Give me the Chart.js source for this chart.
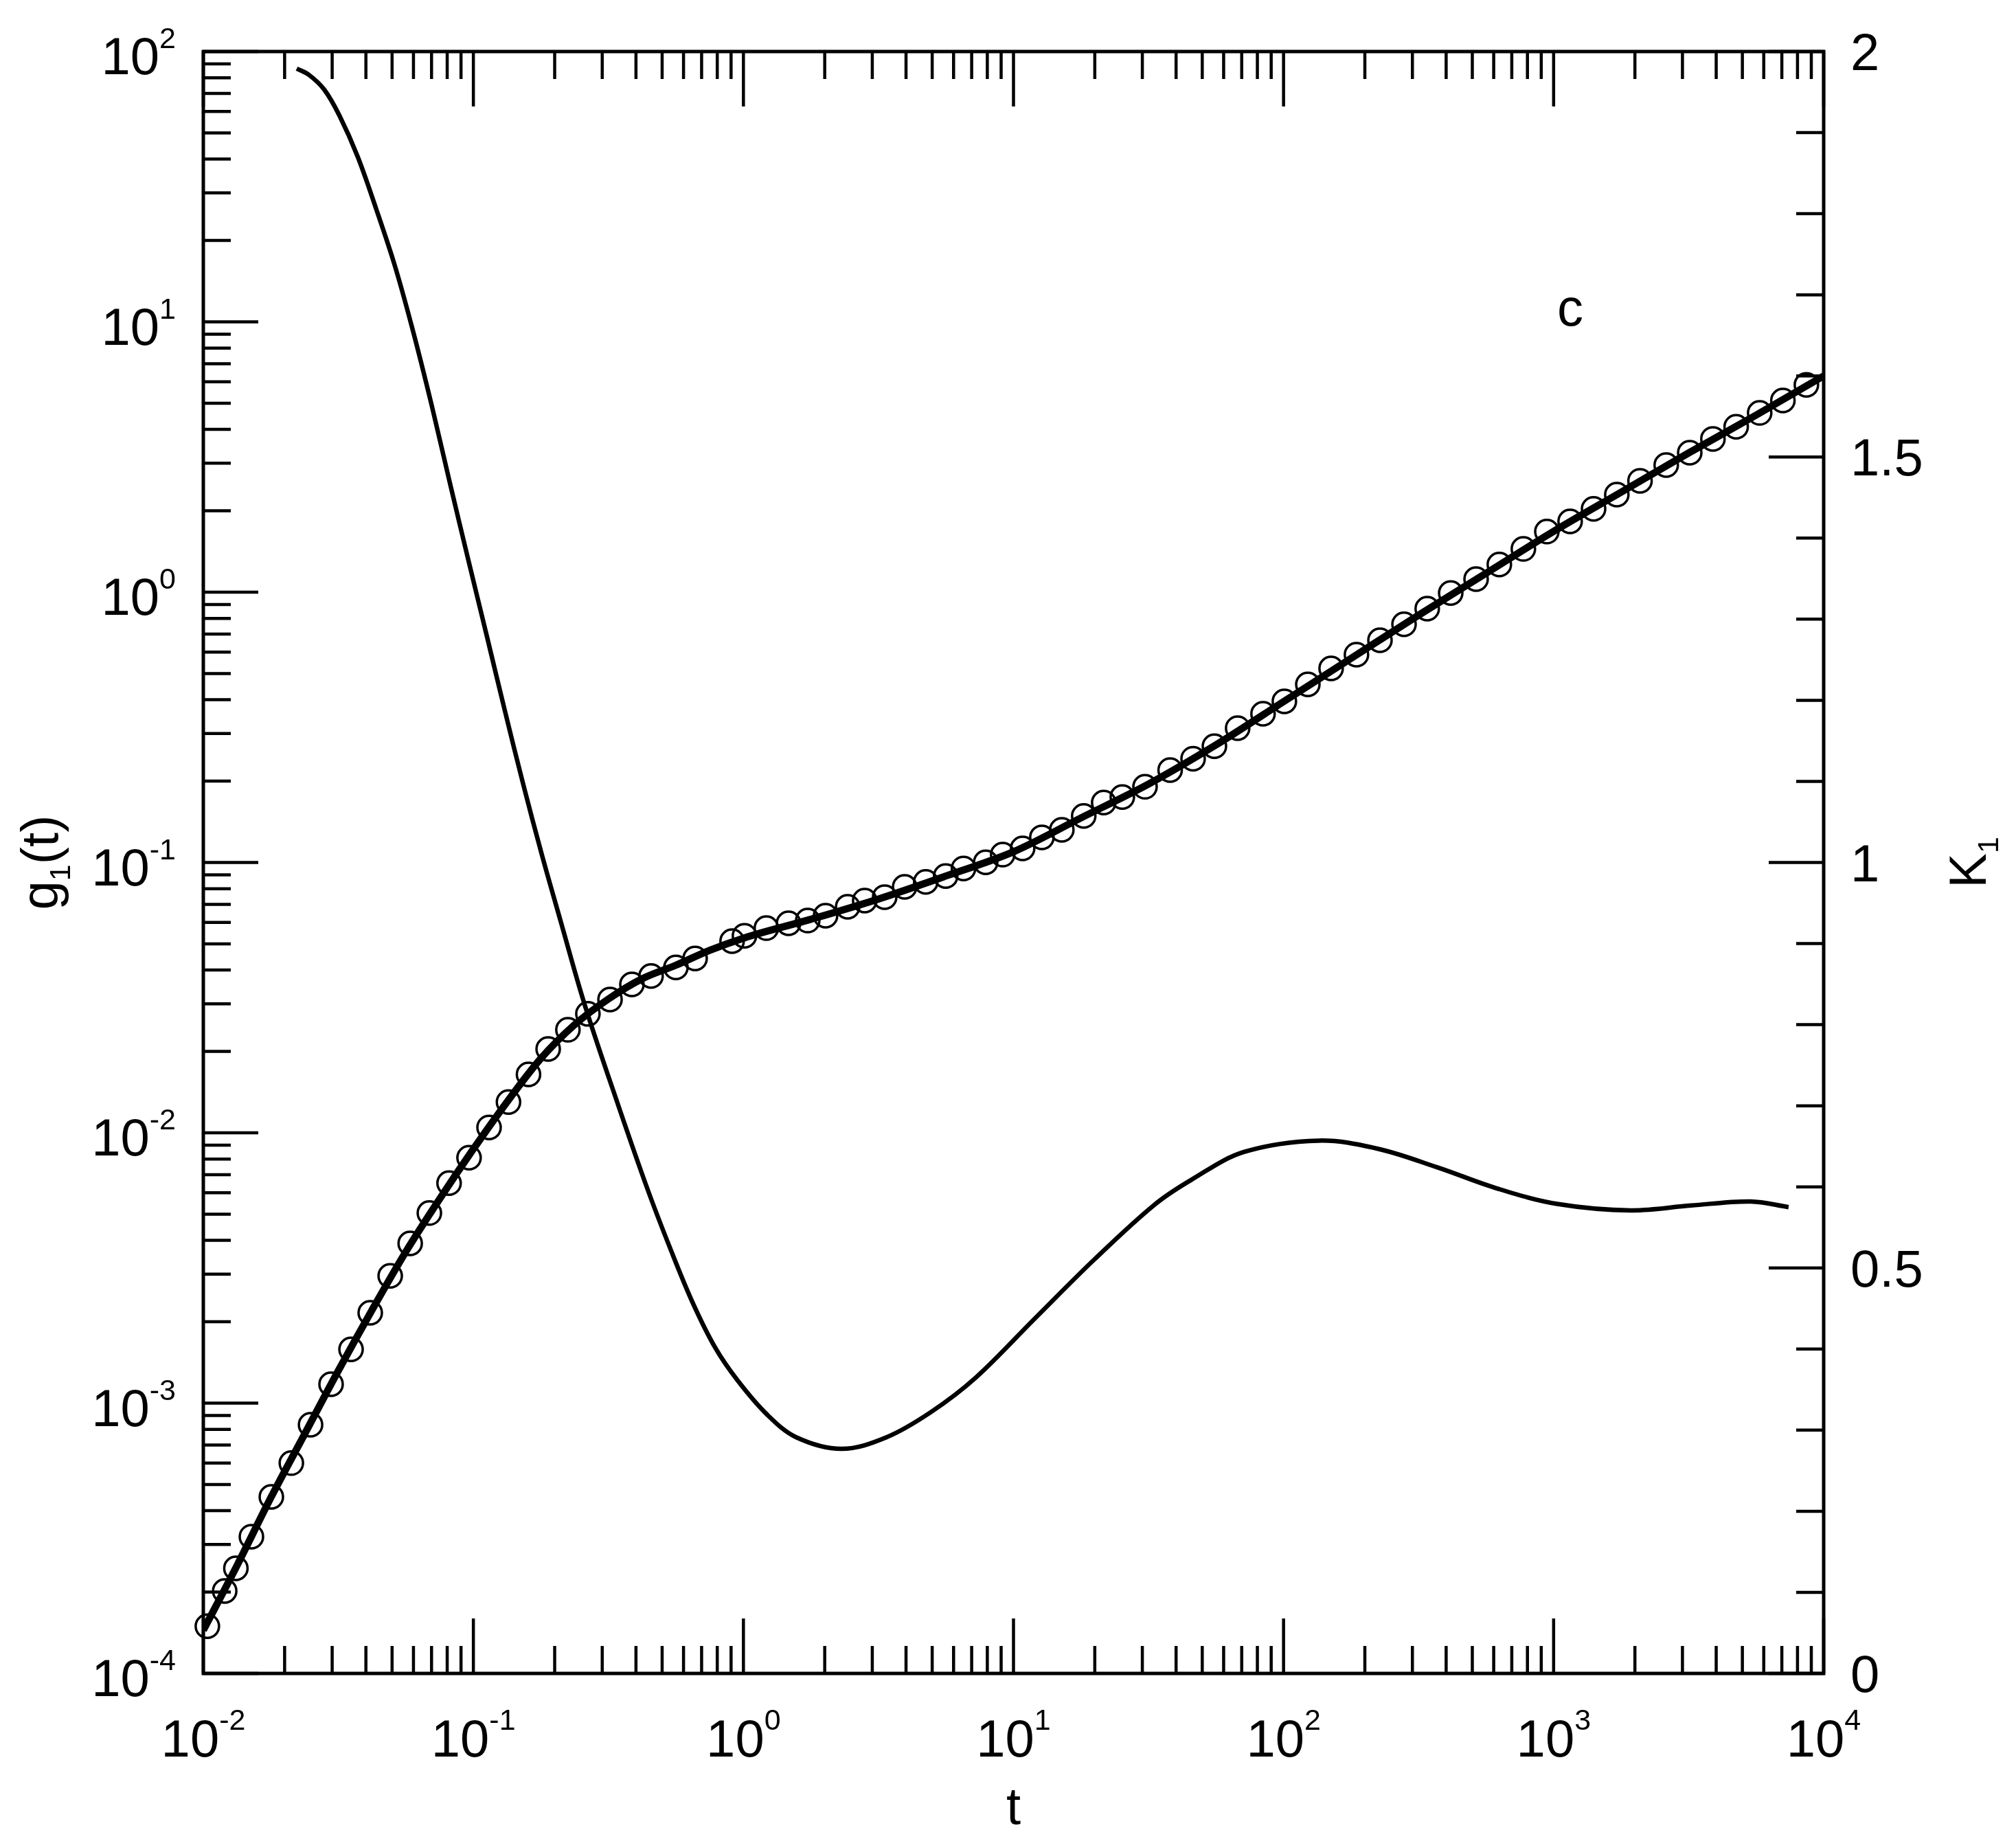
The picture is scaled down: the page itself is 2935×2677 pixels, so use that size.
<!DOCTYPE html>
<html>
<head>
<meta charset="utf-8">
<script src="https://cdn.jsdelivr.net/npm/chart.js@4.4.0/dist/chart.umd.min.js"></script>
<style>
  html, body { margin: 0; padding: 0; background: #fff; }
  canvas { display: block; }
</style>
</head>
<body>
<canvas id="chart" width="2935" height="2677"></canvas>
<script>
// g1(t): simulated points (open circles)
const circleT = [0.01035, 0.0120, 0.0132, 0.01507, 0.01786, 0.02118, 0.02495, 0.02972, 0.03524, 0.0415,
  0.0492, 0.05834, 0.06871, 0.08128, 0.09638, 0.1143, 0.1349, 0.16, 0.1892, 0.2239,
  0.2655, 0.3206, 0.3864, 0.455, 0.5623, 0.6622, 0.9078, 1.009, 1.216, 1.469,
  1.73, 2.014, 2.432, 2.812, 3.334, 3.954, 4.732, 5.61, 6.531, 7.889,
  9.12, 10.81, 12.74, 15.1, 18.2, 21.58, 25.29, 30.69, 38.02, 46.24,
  55.46, 67.61, 83.95, 100.7, 123.0, 150.0, 186.2, 227.5, 279.3, 340.4,
  415.9, 516.4, 629.5, 772.7, 944.1, 1151, 1406, 1714, 2089, 2612,
  3192, 3890, 4742, 5794, 7063, 8630];
const circleG = [1.496e-4, 2.018e-4, 2.449e-4, 3.206e-4, 4.498e-4, 5.998e-4, 8.318e-4, 1.175e-3, 1.581e-3, 2.158e-3,
  2.958e-3, 3.899e-3, 5.047e-3, 6.516e-3, 8.091e-3, 0.01047, 0.0130, 0.01644, 0.02042, 0.02404,
  0.02754, 0.03112, 0.0354, 0.03802, 0.04093, 0.04416, 0.05117, 0.05358, 0.05715, 0.05957,
  0.06095, 0.06353, 0.06855, 0.07228, 0.07447, 0.08128, 0.08472, 0.08913, 0.09506, 0.1002,
  0.1069, 0.1127, 0.1239, 0.1321, 0.1486, 0.1667, 0.1746, 0.1905, 0.2198, 0.2421,
  0.2692, 0.3141, 0.3548, 0.3945, 0.456, 0.5224, 0.5875, 0.6637, 0.7603, 0.869,
  0.9931, 1.117, 1.265, 1.445, 1.675, 1.828, 2.032, 2.296, 2.582, 2.951,
  3.281, 3.69, 4.093, 4.603, 5.117, 5.848];

// g1(t): fitted curve (thick line)
const fitT = [0.01, 0.01334, 0.01778, 0.02371, 0.03162, 0.04217, 0.05623, 0.07499, 0.1, 0.1334,
  0.1778, 0.2371, 0.3162, 0.4217, 0.5623, 0.7499, 1, 1.778, 3.162, 5.623,
  10, 17.78, 31.62, 56.23, 100, 177.8, 316.2, 562.3, 1000, 1778,
  3162, 5623, 10000];
const fitG = [1.445e-4, 2.512e-4, 4.467e-4, 7.674e-4, 1.318e-3, 2.213e-3, 3.631e-3, 5.689e-3, 8.71e-3, 0.01303,
  0.01884, 0.02512, 0.03126, 0.03715, 0.04169, 0.04732, 0.05248, 0.06166, 0.07328, 0.08913,
  0.1096, 0.1462, 0.195, 0.2723, 0.3936, 0.5689, 0.8222, 1.175, 1.679, 2.344,
  3.273, 4.519, 6.31];

// K1(t) on the right axis
const kT = [0.02218, 0.02466, 0.02805, 0.03192, 0.03733, 0.04375, 0.05129, 0.0597, 0.06982, 0.08185,
  0.09594, 0.1122, 0.1306, 0.1531, 0.1795, 0.2099, 0.2576, 0.3436, 0.4416, 0.5358,
  0.6471, 0.7852, 0.9528, 1.225, 1.574, 2.307, 3.373, 4.932, 7.261, 12.02,
  20.0, 33.27, 45.71, 71.29, 134.9, 223.4, 371.5, 618.0, 1030, 1936,
  3228, 5370, 7413];
const kVal = [1.979, 1.971, 1.953, 1.921, 1.870, 1.805, 1.735, 1.656, 1.566, 1.468,
  1.372, 1.279, 1.188, 1.096, 1.009, 0.929, 0.826, 0.701, 0.597, 0.524,
  0.458, 0.402, 0.361, 0.319, 0.291, 0.277, 0.291, 0.322, 0.365, 0.438,
  0.511, 0.578, 0.609, 0.643, 0.657, 0.647, 0.624, 0.598, 0.579, 0.571,
  0.577, 0.582, 0.575];

// tick labels
const xTickValues = [0.01, 0.1, 1, 10, 100, 1000, 10000];
const xTickExp = ['-2', '-1', '0', '1', '2', '3', '4'];
const yTickValues = [1e-4, 1e-3, 1e-2, 1e-1, 1, 10, 100];
const yTickExp = ['-4', '-3', '-2', '-1', '0', '1', '2'];
const kTickValues = [0, 0.5, 1, 1.5, 2];
const kTickLabels = ['0', '0.5', '1', '1.5', '2'];

const FONT = '"Liberation Sans", Arial, sans-serif';

function toPoints(xs, ys) {
  return xs.map((x, i) => ({ x: x, y: ys[i] }));
}

// draws a power of ten label, anchored by align ('center' | 'right')
function drawPow(ctx, exp, x, baseY, supY, align) {
  ctx.font = '76px ' + FONT;
  const wb = ctx.measureText('10').width;
  ctx.font = '43px ' + FONT;
  const ws = ctx.measureText(exp).width;
  const total = wb + ws;
  let x0 = align === 'right' ? x - total : x - total / 2;
  ctx.textAlign = 'left';
  ctx.font = '76px ' + FONT;
  ctx.fillText('10', x0, baseY);
  ctx.font = '43px ' + FONT;
  ctx.fillText(exp, x0 + wb, supY);
}

const axesPlugin = {
  id: 'axesPlugin',
  afterDraw(chart) {
    const ctx = chart.ctx;
    const a = chart.chartArea;
    const xs = chart.scales.x, ys = chart.scales.y, ks = chart.scales.y2;
    const major = 80, minor = 40;
    ctx.save();
    ctx.strokeStyle = '#000';
    ctx.fillStyle = '#000';

    // ticks, all pointing inwards
    ctx.lineWidth = 4.5;
    ctx.beginPath();
    for (let d = -2; d <= 4; d++) {
      for (let m = 1; m <= 9; m++) {
        const v = m * Math.pow(10, d);
        if (v > 10000 * 1.0001) break;
        const px = xs.getPixelForValue(v);
        const len = m === 1 ? major : minor;
        ctx.moveTo(px, a.bottom); ctx.lineTo(px, a.bottom - len);
        ctx.moveTo(px, a.top); ctx.lineTo(px, a.top + len);
      }
    }
    for (let d = -4; d <= 2; d++) {
      for (let m = 1; m <= 9; m++) {
        const v = m * Math.pow(10, d);
        if (v > 100 * 1.0001) break;
        const py = ys.getPixelForValue(v);
        const len = m === 1 ? major : minor;
        ctx.moveTo(a.left, py); ctx.lineTo(a.left + len, py);
      }
    }
    for (let i = 0; i <= 20; i++) {
      const py = ks.getPixelForValue(i / 10);
      const len = i % 5 === 0 ? major : minor;
      ctx.moveTo(a.right, py); ctx.lineTo(a.right - len, py);
    }
    ctx.stroke();

    // frame
    ctx.lineWidth = 5;
    ctx.strokeRect(a.left, a.top, a.right - a.left, a.bottom - a.top);

    // tick labels
    ctx.textBaseline = 'alphabetic';
    xTickValues.forEach((v, i) => {
      drawPow(ctx, xTickExp[i], xs.getPixelForValue(v), a.bottom + 121, a.bottom + 82, 'center');
    });
    yTickValues.forEach((v, i) => {
      const py = ys.getPixelForValue(v);
      drawPow(ctx, yTickExp[i], a.left - 40, py + 33, py - 5, 'right');
    });
    ctx.font = '76px ' + FONT;
    ctx.textAlign = 'left';
    kTickValues.forEach((v, i) => {
      ctx.fillText(kTickLabels[i], a.right + 39, ks.getPixelForValue(v) + 27);
    });

    // axis titles
    ctx.textAlign = 'center';
    ctx.fillText('t', (a.left + a.right) / 2, 2655);

    // left: g1(t)
    ctx.save();
    ctx.translate(84, (a.top + a.bottom) / 2);
    ctx.rotate(-Math.PI / 2);
    ctx.textAlign = 'left';
    ctx.font = '76px ' + FONT;
    const wg = ctx.measureText('g').width;
    const wt = ctx.measureText('(t)').width;
    ctx.font = '43px ' + FONT;
    const w1 = ctx.measureText('1').width;
    let x0 = -(wg + w1 + wt) / 2;
    ctx.font = '76px ' + FONT;
    ctx.fillText('g', x0, 0);
    ctx.font = '43px ' + FONT;
    ctx.fillText('1', x0 + wg, 18);
    ctx.font = '76px ' + FONT;
    ctx.fillText('(t)', x0 + wg + w1, 0);
    ctx.restore();

    // right: K1
    ctx.save();
    ctx.translate(2891, (a.top + a.bottom) / 2);
    ctx.rotate(-Math.PI / 2);
    ctx.textAlign = 'left';
    ctx.font = '76px ' + FONT;
    const wk = ctx.measureText('K').width;
    ctx.font = '43px ' + FONT;
    const wk1 = ctx.measureText('1').width;
    x0 = -(wk + wk1) / 2;
    ctx.font = '76px ' + FONT;
    ctx.fillText('K', x0, 0);
    ctx.font = '43px ' + FONT;
    ctx.fillText('1', x0 + wk, 18);
    ctx.restore();

    // panel letter
    ctx.font = '76px ' + FONT;
    ctx.textAlign = 'center';
    ctx.fillText('c', 2286, 474);
    ctx.restore();
  }
};

const ctx = document.getElementById('chart').getContext('2d');
new Chart(ctx, {
  type: 'line',
  data: {
    datasets: [
      {
        label: 'K1',
        data: toPoints(kT, kVal),
        yAxisID: 'y2',
        borderColor: '#000',
        borderWidth: 6.5,
        pointRadius: 0,
        tension: 0.35,
        fill: false,
        order: 0
      },
      {
        label: 'g1 fit',
        data: toPoints(fitT, fitG),
        yAxisID: 'y',
        borderColor: '#000',
        borderWidth: 10.5,
        pointRadius: 0,
        cubicInterpolationMode: 'monotone',
        fill: false,
        order: 1
      },
      {
        label: 'g1',
        data: toPoints(circleT, circleG),
        yAxisID: 'y',
        showLine: false,
        pointStyle: 'circle',
        pointRadius: 17,
        pointBorderWidth: 3.5,
        pointBorderColor: '#000',
        pointBackgroundColor: 'rgba(0,0,0,0)',
        clip: false,
        order: 2
      }
    ]
  },
  options: {
    responsive: false,
    animation: false,
    devicePixelRatio: 1,
    layout: { padding: { top: 75, left: 0, right: 0, bottom: 0 } },
    plugins: {
      legend: { display: false },
      tooltip: { enabled: false }
    },
    scales: {
      x: {
        type: 'logarithmic',
        position: 'bottom',
        min: 0.01,
        max: 10000,
        grid: { display: false },
        border: { display: false },
        ticks: { display: false },
        afterFit: s => { s.height = 241; }
      },
      y: {
        type: 'logarithmic',
        position: 'left',
        min: 1e-4,
        max: 100,
        grid: { display: false },
        border: { display: false },
        ticks: { display: false },
        afterFit: s => { s.width = 296; }
      },
      y2: {
        type: 'linear',
        position: 'right',
        min: 0,
        max: 2,
        grid: { display: false },
        border: { display: false },
        ticks: { display: false },
        afterFit: s => { s.width = 280; }
      }
    }
  },
  plugins: [axesPlugin]
});
</script>
</body>
</html>
